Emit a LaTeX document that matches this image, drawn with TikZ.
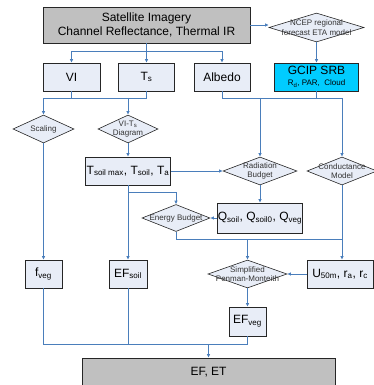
\documentclass[tikz,border=0pt]{standalone}
\usepackage{fontspec}
\setmainfont{Liberation Sans}
\usetikzlibrary{shapes.geometric,arrows.meta}
\definecolor{lnblue}{HTML}{4A7EBB}
\definecolor{boxfill}{HTML}{E8EDF7}
\definecolor{grayfill}{HTML}{C0C0C0}
\definecolor{cyanfill}{HTML}{00CCFF}
\begin{document}
\begin{tikzpicture}[x=1pt,y=-1pt,
 bx/.style={draw=black!85,line width=0.8pt,fill=boxfill,minimum height=28pt,inner sep=0pt,font=\fontsize{12}{14}\selectfont},
 dia/.style={shape=diamond,draw=black!85,line width=0.6pt,fill=boxfill,inner sep=0pt},
 dlab/.style={font=\fontsize{8}{9.5}\selectfont,text=black!80,align=center,inner sep=0pt},
 con/.style={draw=lnblue,line width=0.8pt},
 arr/.style={con,-{Latex[length=3.5pt,width=3.5pt]}}]
\useasboundingbox (0,0) rectangle (374,385);
% nodes
\node[bx,fill=grayfill,minimum width=207pt,minimum height=36pt,align=center] (sat) at (146.5,25) {Satellite Imagery\\Channel Reflectance, Thermal IR};
\node[dia,minimum width=95pt,minimum height=29pt,label={[dlab]center:NCEP regional\\forecast ETA model}] (ncep) at (316.5,27.5) {};
\node[bx,fill=cyanfill,minimum width=84pt,align=center] (gcip) at (316.5,77) {GCIP SRB\\[-3pt]{\fontsize{8}{9}\selectfont R\textsubscript{d}, PAR,\ \ Cloud}};
\node[bx,minimum width=57pt] (vi) at (71.5,77) {VI};
\node[bx,minimum width=56pt] (ts) at (146.5,77) {T\textsubscript{s}};
\node[bx,minimum width=56pt] (alb) at (222,77) {Albedo};
\node[dia,minimum width=61pt,minimum height=28pt,label={[dlab]center:Scaling}] (scal) at (43.5,129) {};
\node[dia,minimum width=60pt,minimum height=28pt,label={[dlab]center:VI-T\textsubscript{s}\\Diagram}] (vits) at (128,129) {};
\node[bx,minimum width=85pt] (tsoil) at (128,171) {T\textsubscript{soil max}, T\textsubscript{soil}, T\textsubscript{a}};
\node[dia,minimum width=74pt,minimum height=28pt,label={[dlab]center:Radiation\\Budget}] (rad) at (260,171) {};
\node[dia,minimum width=70pt,minimum height=28pt,label={[dlab]center:Conductance\\Model}] (cond) at (342,171) {};
\node[bx,minimum width=85pt,minimum height=30pt] (q) at (260,218) {Q\textsubscript{soil}, Q\textsubscript{soil0}, Q\textsubscript{veg}};
\node[dia,minimum width=68pt,minimum height=27pt,label={[dlab]center:Energy Budget}] (eb) at (176,218) {};
\node[bx,minimum width=37pt] (fveg) at (43.5,274) {f\textsubscript{veg}};
\node[bx,minimum width=38pt] (efsoil) at (128,274) {EF\textsubscript{soil}};
\node[dia,minimum width=79pt,minimum height=28pt,label={[dlab]center:Simplified\\Penman-Monteith}] (pm) at (247.5,274) {};
\node[bx,minimum width=66pt] (u50) at (340,274) {U\textsubscript{50m}, r\textsubscript{a}, r\textsubscript{c}};
\node[bx,minimum width=37pt,minimum height=29pt] (efveg) at (247.5,321.5) {EF\textsubscript{veg}};
\node[bx,fill=grayfill,minimum width=253pt] (efet) at (208.5,372) {EF, ET};
% connectors
\draw[arr] (sat.east) -- (sat.east -| ncep.west);
\draw[arr] (ncep.south) -- (gcip.north);
\path (sat.south) ++(0,8) coordinate (j1);
\draw[con] (sat.south) -- (j1);
\draw[arr] (j1) -| (vi.north);
\draw[arr] (j1) -| (alb.north);
\draw[arr] (j1) -- (ts.north);
\coordinate (j2) at (43.5,98);
\draw[con] (vi.south) -- (vi.south |- j2);
\draw[con] (ts.south) -- (ts.south |- j2) -- (j2);
\draw[arr] (j2) -- (scal.north);
\draw[arr] (vits.north |- j2) -- (vits.north);
\draw[con] (alb.south) -- (alb.south |- j2) -- (j2 -| cond.north);
\draw[con] (gcip.south) -- (gcip.south |- j2);
\draw[arr] (rad.north |- j2) -- (rad.north);
\draw[arr] (cond.north |- j2) -- (cond.north);
\draw[arr] (vits.south) -- (tsoil.north);
\draw[arr] (scal.south) -- (fveg.north);
\draw[arr] (tsoil.east) -- (rad.west);
\draw[arr] (rad.south) -- (q.north);
\draw[arr] (q.west) -- (eb.east);
\draw[arr] (tsoil.south) -- (efsoil.north);
\coordinate (j3) at (128,192);
\draw[arr] (j3) -| (eb.north);
\coordinate (j4) at (176,239);
\draw[con] (eb.south) -- (j4) -- (j4 -| cond.south);
\draw[arr] (cond.south) -- (cond.south |- u50.north);
\draw[arr] (j4 -| pm.north) -- (pm.north);
\draw[arr] (u50.west) -- (pm.east);
\draw[arr] (pm.south) -- (efveg.north);
\coordinate (j5) at (43.5,344);
\draw[con] (fveg.south) -- (j5) -- (j5 -| efveg.south) -- (efveg.south);
\draw[con] (efsoil.south) -- (efsoil.south |- j5);
\draw[arr] (j5 -| efet.north) -- (efet.north);
\end{tikzpicture}
\end{document}
